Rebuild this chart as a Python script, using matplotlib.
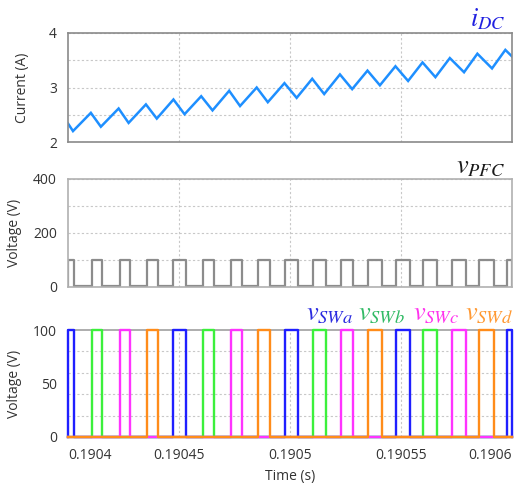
import numpy as np
import matplotlib
matplotlib.use("Agg")
import matplotlib.pyplot as plt

plt.rcParams['font.family'] = ['Open Sans', 'DejaVu Sans']
plt.rcParams['mathtext.fontset'] = 'stix'

# ---------------- data ----------------
T0 = 0.1904           # s, start of window
T_SPAN_US = 200.0     # window length in microseconds

# DC current: corner points (time offset in us, current in A)
idc_t_us = [0, 2.25, 10.3, 14.8, 22.8, 27.3, 35.1, 40.0, 47.5, 52.5, 60.0, 65.1,
            72.6, 77.5, 85.0, 90.0, 97.5, 103.0, 110.0, 115.4, 122.5, 128.0,
            134.9, 140.5, 147.5, 153.2, 159.7, 165.5, 172.0, 178.4, 184.4,
            191.0, 197.0, 200.0]
idc_vals = [2.34, 2.20, 2.535, 2.28, 2.615, 2.35, 2.69, 2.43, 2.78, 2.51, 2.84,
            2.58, 2.94, 2.66, 3.00, 2.73, 3.08, 2.81, 3.16, 2.88, 3.24, 2.97,
            3.31, 3.04, 3.39, 3.12, 3.46, 3.19, 3.54, 3.28, 3.62, 3.35, 3.69, 3.57]

# switch pulses (on / off times, us offset)
swa_on = [-3.5, 47.5, 97.6, 147.7, 197.8]
swa_off = [2.6, 53.1, 103.8, 154.2, 204.0]
swb_on = [10.6, 60.6, 110.2, 160.1]
swb_off = [15.3, 65.8, 116.1, 166.4]
swc_on = [23.2, 73.2, 122.8, 172.8]
swc_off = [28.1, 78.6, 128.6, 179.3]
swd_on = [35.5, 85.6, 135.2, 185.3]
swd_off = [40.6, 91.2, 141.4, 192.1]
sw_high = 100.0   # V

vpfc_low = 2.0
vpfc_high = 100.0

xticks = [0.1904, 0.19045, 0.1905, 0.19055, 0.1906]
xtick_labels = ["0.1904", "0.19045", "0.1905", "0.19055", "0.1906"]

# ---------------- helpers ----------------
def to_s(us):
    return T0 + np.asarray(us, dtype=float) * 1e-6

def pulse_wave(ons, offs, low, high):
    t = [0.0]
    v = [low]
    for a, b in zip(ons, offs):
        t += [a, a, b, b]
        v += [low, high, high, low]
    t.append(T_SPAN_US)
    v.append(low)
    t = np.clip(np.array(t), 0.0, T_SPAN_US)
    return to_s(t), np.array(v)

xlim = (T0, T0 + T_SPAN_US * 1e-6)
grid_kw = dict(color="#c8c8c8", linestyle=(0, (2, 2)), linewidth=0.8)

fig = plt.figure(figsize=(5.27, 4.83), dpi=100)
W, H = 527.0, 483.0
def add_ax(x0, y0, x1, y1):
    return fig.add_axes([x0 / W, 1 - y1 / H, (x1 - x0) / W, (y1 - y0) / H])

ax1 = add_ax(68, 33, 512, 142)
ax2 = add_ax(68, 179, 512, 287)
ax3 = add_ax(68, 330, 512, 437)

for ax, sc in ((ax1, "#8a8a8a"), (ax2, "#b0b0b0"), (ax3, "#a0a0a0")):
    ax.set_xlim(*xlim)
    for s in ax.spines.values():
        s.set_color(sc)
        s.set_linewidth(1.2)
    ax.tick_params(length=0, labelsize=10, colors="#333333", pad=8)
    ax.set_xticks(xticks[1:-1])
    ax.xaxis.grid(True, **grid_kw)
    ax.set_axisbelow(True)

# --- top: DC current
ax1.plot(to_s(idc_t_us), idc_vals, color="#1e8fff", lw=1.8, solid_joinstyle="miter")
ax1.set_ylim(2, 4)
ax1.set_yticks([2, 3, 4])
ax1.set_yticks([2.5, 3.5], minor=True)
ax1.tick_params(which="minor", length=0)
ax1.yaxis.grid(True, which="both", **grid_kw)
ax1.set_xticklabels([])
ax1.set_ylabel("Current (A)", fontsize=10, color="#333333", labelpad=14)
ax1.text(0.985, 1.01, r"$i_{DC}$", transform=ax1.transAxes, ha="right", va="bottom",
         fontsize=19, color="#2020e0")

# --- middle: vPFC
all_on = sorted(swa_on + swb_on + swc_on + swd_on)
all_off = sorted(swa_off + swb_off + swc_off + swd_off)
tp, vp = pulse_wave(all_on, all_off, vpfc_low, vpfc_high)
ax2.plot(tp, vp, color="#8c8c8c", lw=1.6)
ax2.set_ylim(0, 400)
ax2.set_yticks([0, 200, 400])
ax2.set_yticks([100, 300], minor=True)
ax2.tick_params(which="minor", length=0)
ax2.yaxis.grid(True, which="both", **grid_kw)
ax2.set_xticklabels([])
ax2.set_ylabel("Voltage (V)", fontsize=10, color="#333333", labelpad=8)
ax2.text(0.985, 1.0, r"$v_{PFC}$", transform=ax2.transAxes, ha="right", va="bottom",
         fontsize=19, color="#1a1a1a")

# --- bottom: switch voltages
sw_series = [(swa_on, swa_off, "#1f1fff"), (swb_on, swb_off, "#3cf03c"),
             (swc_on, swc_off, "#ff33ff"), (swd_on, swd_off, "#ff8c1a")]
for ons, offs, col in sw_series:
    t, v = pulse_wave(ons, offs, 0.0, sw_high)
    ax3.plot(t, v, color=col, lw=1.7, clip_on=False, zorder=3)
ax3.set_ylim(0, 100)
ax3.set_yticks([0, 50, 100])
ax3.set_yticks([20, 40, 60, 80], minor=True)
ax3.tick_params(which="minor", length=0)
ax3.yaxis.grid(True, which="minor", **grid_kw)
ax3.set_xticks(xticks)
labs = ax3.set_xticklabels(xtick_labels)
labs[0].set_ha("left")
labs[-1].set_ha("right")
ax3.set_ylabel("Voltage (V)", fontsize=10, color="#333333", labelpad=8)
ax3.set_xlabel("Time (s)", fontsize=10, color="#333333", labelpad=4)

lab_specs = [(r"$v_{SWa}$", "#2b2be0", 0.535), (r"$v_{SWb}$", "#33bb66", 0.653),
             (r"$v_{SWc}$", "#ff33ee", 0.777), (r"$v_{SWd}$", "#ff9933", 0.895)]
for txt, col, xf in lab_specs:
    ax3.text(xf, 1.03, txt, transform=ax3.transAxes, ha="left", va="bottom",
             fontsize=19, color=col)

fig.savefig("out.png", dpi=100)
